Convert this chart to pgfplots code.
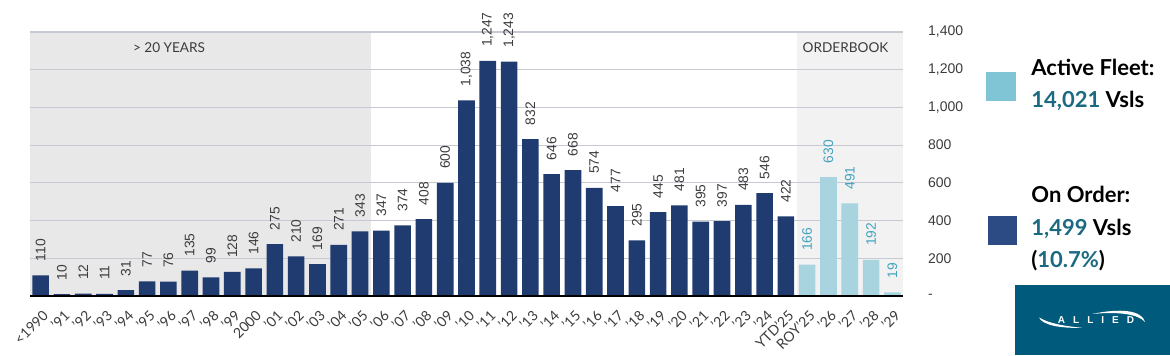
\documentclass[border=0pt]{standalone}
\usepackage{pgfplots}
\pgfplotsset{compat=1.18}
\usepackage{fontspec}
\setmainfont{Lato}
\newfontfamily\arial{Liberation Sans}
\definecolor{darkbar}{HTML}{203B70}
\definecolor{lightbar}{HTML}{A8D4E0}
\definecolor{shadeL}{HTML}{E8E8E8}
\definecolor{shadeR}{HTML}{F2F2F2}
\definecolor{gridc}{HTML}{C6CAD2}
\definecolor{labgray}{HTML}{3C3C3C}
\definecolor{labteal}{HTML}{43A3BF}
\definecolor{legteal}{HTML}{1B6A82}
\definecolor{leglight}{HTML}{7FC5D5}
\definecolor{legdark}{HTML}{2C4A84}
\definecolor{logoc}{HTML}{005A7C}
\definecolor{baseline}{HTML}{9AA8BC}
\begin{document}
\begin{tikzpicture}[x=1pt,y=1pt]
\useasboundingbox (0,0) rectangle (585,177.5);
% background shading of the two regions
\fill[shadeL] (15,29.5) rectangle (185.34,161.5);
\fill[shadeR] (398.27,29.5) rectangle (451.5,161.5);
\begin{axis}[
  at={(15pt,29.5pt)}, anchor=south west,
  scale only axis, width=436.5pt, height=132pt,
  xmin=-0.5, xmax=40.5, ymin=0, ymax=1400,
  ybar, bar width=0.78,
  axis line style={draw=none},
  major tick length=0pt,
  ymajorgrids, grid style={color=gridc, line width=0.6pt},
  ytick={0,200,400,600,800,1000,1200,1400},
  yticklabels={-,200,400,600,800,{1,000},{1,200},{1,400}},
  yticklabel pos=right,
  yticklabel style={anchor=west, xshift=9pt, font=\arial\fontsize{7}{8}\selectfont, color=labgray},
  xtick={0,...,40},
  xticklabels={{<1990},{’91},{’92},{’93},{’94},{’95},{’96},{’97},{’98},{’99},{2000},{’01},{’02},{’03},{’04},{’05},{’06},{’07},{’08},{’09},{’10},{’11},{’12},{’13},{’14},{’15},{’16},{’17},{’18},{’19},{’20},{’21},{’22},{’23},{’24},{YTD’25},{ROY’25},{’26},{’27},{’28},{’29}},
  xticklabel style={font=\fontsize{7}{8}\selectfont, color=labgray, inner sep=0.5pt, anchor=east, xshift=3pt, yshift=-8pt, rotate=45},
  /pgf/number format/.cd, 1000 sep={,}, assume math mode=true,
  /pgfplots/.cd,
  nodes near coords,
  every node near coord/.append style={yshift=6pt, rotate=90, anchor=west, inner sep=0.8pt, font=\arial\fontsize{6.9}{8}\selectfont},
  clip=false,
]
\addplot[fill=darkbar, draw=none, bar shift=0pt, every node near coord/.append style={color=labgray}] coordinates {
(0,110) (1,10) (2,12) (3,11) (4,31) (5,77) (6,76) (7,135) (8,99) (9,128)
(10,146) (11,275) (12,210) (13,169) (14,271) (15,343) (16,347) (17,374) (18,408) (19,600)
(20,1038) (21,1247) (22,1243) (23,832) (24,646) (25,668) (26,574) (27,477) (28,295) (29,445)
(30,481) (31,395) (32,397) (33,483) (34,546) (35,422)
};
\addplot[fill=lightbar, draw=none, bar shift=0pt, every node near coord/.append style={color=labteal}] coordinates {
(36,166) (37,630) (38,491) (39,192) (40,19)
};
\draw[baseline, line width=0.8pt] (axis cs:-0.5,0) -- (axis cs:40.5,0);
\node[font=\fontsize{6.8}{8}\selectfont, color=labgray] at (axis cs:6.03,1315) {> 20 YEARS};
\node[font=\fontsize{6.8}{8}\selectfont, color=labgray] at (axis cs:37.8,1315) {ORDERBOOK};
\end{axis}
% legend
\fill[leglight] (493,127) rectangle (508,141.5);
\fill[legdark] (494,55) rectangle (508.5,69.5);
\begin{scope}[every node/.style={anchor=base west, inner sep=0pt, font=\bfseries\fontsize{11}{13}\selectfont}]
\node at (515.5,140) {Active Fleet:};
\node at (515.5,124) {\textcolor{legteal}{14,021} Vsls};
\node at (515.5,76.5) {On Order:};
\node at (515.5,60) {\textcolor{legteal}{1,499} Vsls};
\node at (515.5,44) {(\textcolor{legteal}{10.7\%})};
\end{scope}
% logo
\fill[logoc] (507.5,0) rectangle (585,35);
\node[white, font=\arial\bfseries\fontsize{5}{6}\selectfont, inner sep=0pt] at (548,17.5) {A\hspace{4pt}L\hspace{4pt}L\hspace{4pt}I\hspace{4pt}E\hspace{4pt}D};
\fill[white] (519.5,18.8) .. controls (521,15) and (530,13.3) .. (541,13.6) .. controls (531,14.6) and (524,16) .. (519.5,18.8) -- cycle;
\fill[white] (546,20.5) .. controls (560,23.5) and (571,22.5) .. (572.5,16.5) .. controls (569,20.5) and (559,21.8) .. (546,20.5) -- cycle;
\end{tikzpicture}
\end{document}
